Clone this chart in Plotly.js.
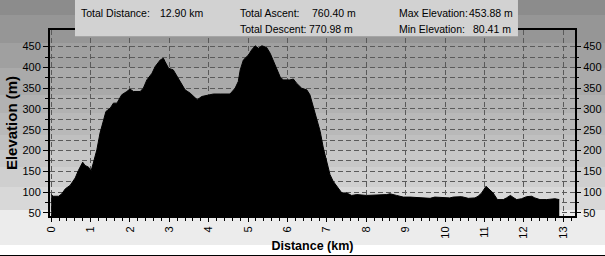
<!DOCTYPE html>
<html>
<head>
<meta charset="utf-8">
<script src="https://cdn.plot.ly/plotly-3.0.1.min.js"></script>
<style>
  html, body { margin: 0; padding: 0; }
  #chart {
    width: 605px; height: 256px;
    background: linear-gradient(to bottom,
      #8c8c8c 0px, #8c8c8c 15px,
      #969696 15px, #969696 43px,
      #a0a0a0 43px, #a0a0a0 68px,
      #aaaaaa 68px, #aaaaaa 95px,
      #b2b2b2 95px, #b2b2b2 113px,
      #b9b9b9 113px, #b9b9b9 135px,
      #c0c0c0 135px, #c0c0c0 150px,
      #c7c7c7 150px, #c7c7c7 167px,
      #cfcfcf 167px, #cfcfcf 187px,
      #d8d8d8 187px, #d8d8d8 210px,
      #ececec 210px, #ececec 245px,
      #ffffff 245px, #ffffff 255px,
      #000000 255px, #000000 256px);
  }
</style>
</head>
<body>
<div id="chart"></div>
<script>
// Distance along the route (km)
var distance = [0,0.05,0.19,0.27,0.36,0.48,0.61,0.69,0.80,0.86,
  0.95,1.01,1.07,1.16,1.24,1.33,1.39,1.50,1.58,1.67,
  1.79,1.92,2.00,2.09,2.26,2.34,2.43,2.56,2.64,2.77,
  2.85,2.89,2.98,3.10,3.15,3.27,3.40,3.53,3.61,3.71,
  3.82,3.99,4.12,4.29,4.54,4.67,4.75,4.80,4.88,5.01,
  5.09,5.18,5.26,5.35,5.47,5.56,5.68,5.81,5.89,6.06,
  6.15,6.23,6.36,6.49,6.57,6.66,6.74,6.83,6.91,7.00,
  7.08,7.16,7.29,7.38,7.50,7.63,7.76,8.01,8.52,8.60,
  8.77,8.94,9.11,9.36,9.62,9.74,10.12,10.21,10.42,10.59,
  10.76,10.84,10.93,11.04,11.14,11.22,11.33,11.48,11.56,11.66,
  11.75,11.82,11.94,12.07,12.20,12.28,12.41,12.58,12.79,12.90];
// Elevation (m)
var elevation = [94,90,90,96,108,116,134,152,172,164,
  160,150,170,202,242,274,294,302,314,314,
  334,342,348,342,342,350,370,386,402,418,
  422,414,398,394,386,370,346,338,330,322,
  330,334,336,336,336,350,366,394,418,430,
  442,452,446,452,448,434,406,378,370,370,
  372,362,350,346,334,302,278,246,206,170,
  142,126,110,98,98,92,94,92,94,96,
  92,88,88,86,85,88,86,88,89,85,
  86,90,98,114,104,98,82,82,86,92,
  86,82,84,89,90,86,82,82,84,82];

var yTickVals = [50,100,150,200,250,300,350,400,450];
var yMinorVals = [75,125,175,225,275,325,375,425];

var summaryLabels = ["Total Distance:", "Total Ascent:", "Total Descent:", "Max Elevation:", "Min Elevation:"];
var summaryValues = ["12.90 km", "760.40 m", "770.98 m", "453.88 m", "80.41 m"];

var FONT = "Arial, 'Liberation Sans', sans-serif";
var gridDash = "5px,3px";
var gridColor = "#5a5a5a";

var traces = [
  {
    x: distance, y: elevation, type: "scatter", mode: "lines",
    fill: "tozeroy", fillcolor: "#000000",
    line: {color: "#000000", width: 1},
    hoverinfo: "skip", showlegend: false
  },
  {
    x: distance, y: elevation, type: "scatter", mode: "lines",
    yaxis: "y2", line: {color: "rgba(0,0,0,0)", width: 0},
    hoverinfo: "skip", showlegend: false
  }
];

// summary box positions (paper coords)
var colX = [0.0552, 0.359, 0.359, 0.661, 0.661];
var valX = [0.2057, 0.495, 0.4886, 0.794, 0.802];
var rowY = [1.092, 1.092, 1.005, 1.092, 1.005];
var annotations = [];
for (var i = 0; i < summaryLabels.length; i++) {
  annotations.push({xref: "paper", yref: "paper", x: colX[i], y: rowY[i],
    xanchor: "left", yanchor: "middle", showarrow: false, text: summaryLabels[i],
    font: {family: FONT, size: 10.5, color: "#000"}});
  annotations.push({xref: "paper", yref: "paper", x: valX[i], y: rowY[i],
    xanchor: "left", yanchor: "middle", showarrow: false, text: summaryValues[i],
    font: {family: FONT, size: 10.5, color: "#000"}});
}

var layout = {
  width: 605, height: 256,
  margin: {l: 50, r: 30, t: 30, b: 40, pad: 0},
  paper_bgcolor: "rgba(0,0,0,0)",
  plot_bgcolor: "rgba(0,0,0,0)",
  font: {family: FONT, size: 11, color: "#000"},
  xaxis: {
    range: [-0.03, 13.3], tick0: 0, dtick: 1,
    ticks: "outside", ticklen: 4, tickcolor: "#000", tickwidth: 1,
    tickangle: -90, tickfont: {family: FONT, size: 11, color: "#000"},
    showgrid: true, gridcolor: gridColor, griddash: gridDash, gridwidth: 1,
    zeroline: false, showline: true, linecolor: "#000", linewidth: 2, mirror: true,
    minor: {dtick: 0.2, tick0: 0, ticks: "outside", ticklen: 3, tickcolor: "#000", showgrid: false},
    title: {text: "Distance (km)", font: {family: FONT, size: 12.5, color: "#000", weight: "bold"}, standoff: 4},
    automargin: false
  },
  yaxis: {
    range: [42.5, 490], tickmode: "array", tickvals: yTickVals,
    ticks: "outside", ticklen: 5, tickcolor: "#000",
    showgrid: true, gridcolor: gridColor, griddash: gridDash, gridwidth: 1,
    zeroline: false, showline: true, linecolor: "#000", linewidth: 2, mirror: true,
    minor: {tickmode: "array", tickvals: yMinorVals, ticks: "outside", ticklen: 3, tickcolor: "#000",
      showgrid: true, gridcolor: gridColor, griddash: gridDash, gridwidth: 1},
    tickfont: {family: FONT, size: 11, color: "#000"},
    title: {text: "Elevation (m)", font: {family: FONT, size: 15, color: "#000", weight: "bold"}, standoff: 1},
    automargin: false
  },
  yaxis2: {
    range: [42.5, 490], overlaying: "y", side: "right",
    tickmode: "array", tickvals: yTickVals,
    ticks: "outside", ticklen: 5, tickcolor: "#000",
    showgrid: false, zeroline: false, showline: false,
    minor: {tickmode: "array", tickvals: yMinorVals, ticks: "outside", ticklen: 3, tickcolor: "#000", showgrid: false},
    tickfont: {family: FONT, size: 11, color: "#000"}
  },
  shapes: [
    {type: "rect", xref: "paper", yref: "paper", x0: 0.0476, x1: 0.8914, y0: 0.967, y1: 1.17,
      fillcolor: "#d2d2d2", line: {width: 0}, layer: "above"}
  ],
  annotations: annotations
};

Plotly.newPlot("chart", traces, layout, {displayModeBar: false, staticPlot: true});
</script>
</body>
</html>
